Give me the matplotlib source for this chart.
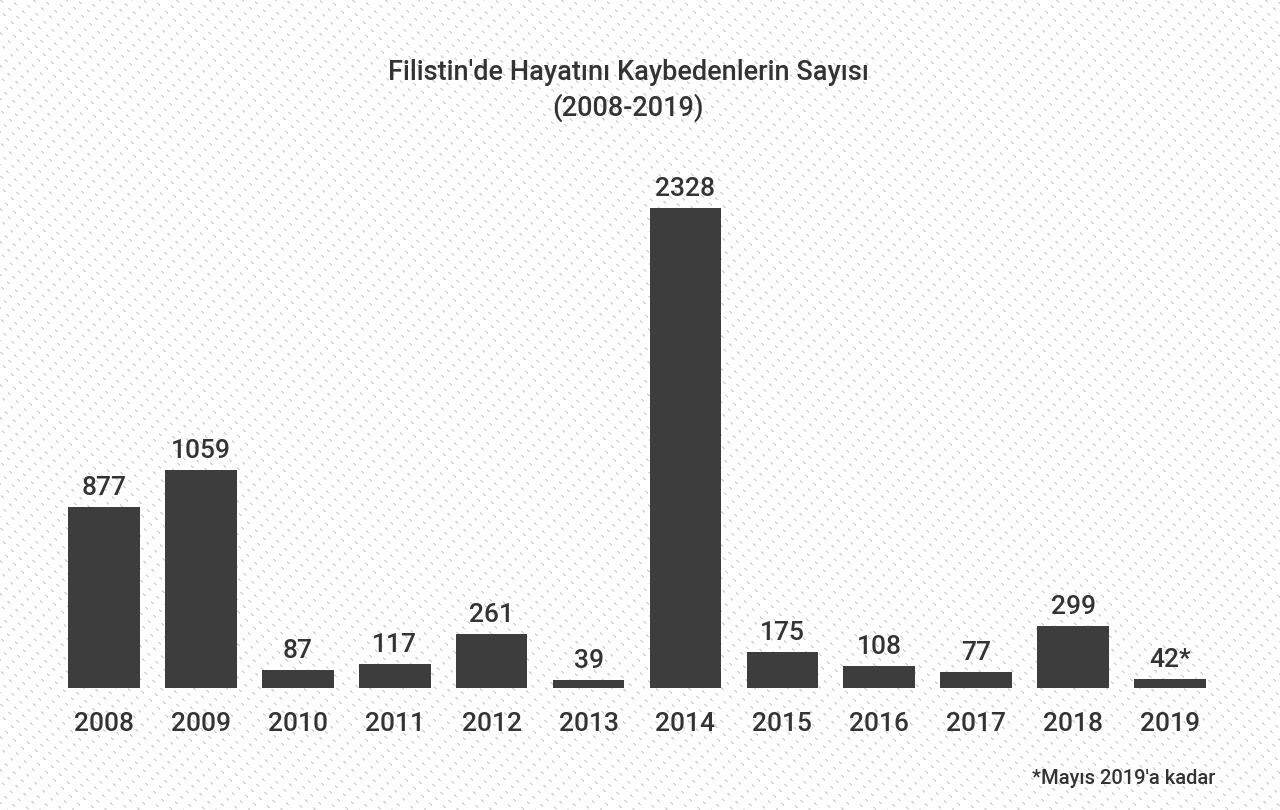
import numpy as np
import matplotlib
matplotlib.use('Agg')
import matplotlib.pyplot as plt

years = ['2008', '2009', '2010', '2011', '2012', '2013',
         '2014', '2015', '2016', '2017', '2018', '2019']
deaths = [877, 1059, 87, 117, 261, 39, 2328, 175, 108, 77, 299, 42]
value_labels = ['877', '1059', '87', '117', '261', '39',
                '2328', '175', '108', '77', '299', '42*']

plt.rcParams['font.family'] = ['Roboto', 'DejaVu Sans']
plt.rcParams['font.weight'] = 'medium'
txt = '#333333'

W, H = 1280, 810
fig = plt.figure(figsize=(12.8, 8.1), dpi=100)

# background texture: light diagonal dashes
bg = fig.add_axes([0, 0, 1, 1])
yy, xx = np.mgrid[0:H, 0:W]
mask = ((xx - yy) % 11 < 2) & ((xx + yy) % 16 < 5)
tex = np.ones((H, W, 3))
tex[mask] = 0.84
bg.imshow(tex, aspect='auto', interpolation='nearest')
bg.axis('off')

# bar axes placed in pixel terms
left, right = 55.5, 1218.5
base, top = 688, 208
ax = fig.add_axes([left / W, (H - base) / H, (right - left) / W, (base - top) / H])
ax.patch.set_alpha(0)
x = np.arange(len(years))
bars = ax.bar(x, deaths, width=0.74, color='#3d3d3d')
ax.set_xlim(-0.5, len(years) - 0.5)
ax.set_ylim(0, max(deaths))

for b, lab in zip(bars, value_labels):
    ax.annotate(lab, (b.get_x() + b.get_width() / 2, b.get_height()),
                xytext=(0, 5), textcoords='offset points',
                ha='center', va='bottom', fontsize=19, color=txt,
                fontweight='medium', annotation_clip=False)

ax.set_xticks(x)
ax.set_xticklabels(years, fontsize=19, color=txt, fontweight='medium')
ax.tick_params(axis='x', length=0, pad=17)
ax.set_yticks([])
for s in ax.spines.values():
    s.set_visible(False)

fig.text(628 / W, 1 - 73 / H, "Filistin'de Hayatını Kaybedenlerin Sayısı",
         ha='center', va='center', fontsize=19.5, color=txt, fontweight='medium')
fig.text(628 / W, 1 - 108 / H, "(2008-2019)",
         ha='center', va='center', fontsize=19.5, color=txt, fontweight='medium')
fig.text(1215 / W, 1 - 778 / H, "*Mayıs 2019'a kadar",
         ha='right', va='center', fontsize=14.5, color=txt, fontweight='medium')

fig.savefig('out.png', dpi=100)
